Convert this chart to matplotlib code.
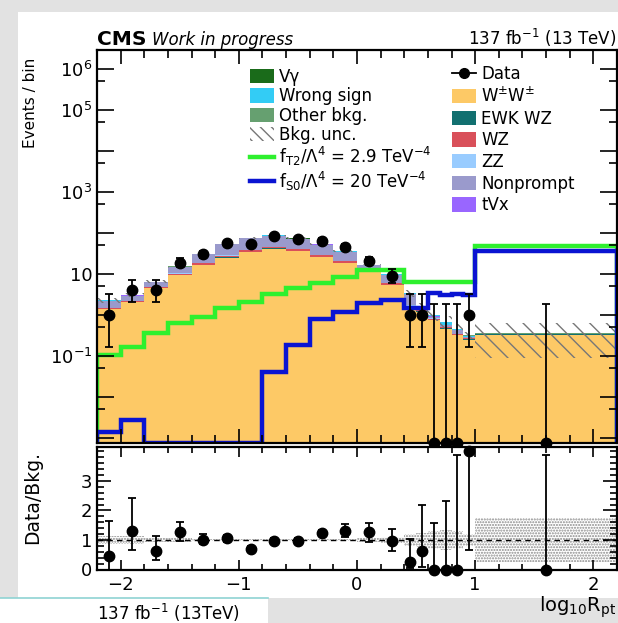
import numpy as np
import matplotlib
matplotlib.use("Agg")
import matplotlib.pyplot as plt
from matplotlib.patches import Patch, Rectangle
from matplotlib.lines import Line2D
from matplotlib.ticker import MultipleLocator, FixedLocator, FuncFormatter

plt.rcParams['font.family'] = ['DejaVu Sans']
plt.rcParams['mathtext.default'] = 'regular'
plt.rcParams['hatch.linewidth'] = 1.0

# binning in log10(R_pt)
edges = [-2.2, -2.0, -1.8, -1.6, -1.4, -1.2, -1.0, -0.8, -0.6, -0.4, -0.2,
         0.0, 0.2, 0.4, 0.5, 0.6, 0.7, 0.8, 0.9, 1.0, 2.2]

# backgrounds (events / bin), stacked bottom -> top
ww = [1.4, 2.1, 4.6, 9.5, 16.6, 25, 34, 41, 36, 26, 18.6, 11.4, 5.4, 1.45, 1.2, 0.75, 0.47, 0.32, 0.25, 0.32]
ewk_wz = [0.03, 0.04, 0.08, 0.2, 0.4, 0.7, 1.0, 1.1, 1.0, 0.7, 0.5, 0.25, 0.15, 0.05, 0.03, 0.02, 0.01, 0.01, 0.01, 0.02]
wz = [0.08, 0.1, 0.25, 0.6, 1.5, 2.5, 3.5, 4.0, 3.5, 2.6, 1.8, 1.0, 0.6, 0.2, 0.08, 0.05, 0.03, 0.02, 0.01, 0.005]
zz = [0.01, 0.02, 0.04, 0.1, 0.2, 0.3, 0.4, 0.5, 0.4, 0.3, 0.2, 0.1, 0.06, 0.02, 0.01, 0.01, 0.005, 0.005, 0.002, 0.002]
nonprompt = [0.7, 0.72, 1.3, 4.4, 11.3, 24.7, 34.8, 38.9, 31.9, 22.8, 13.8, 3.6, 3.4, 1.5, 0.19, 0.09, 0.06, 0.07, 0.02, 0.0]
tvx = [0.01, 0.02, 0.04, 0.1, 0.2, 0.35, 0.5, 0.6, 0.5, 0.35, 0.25, 0.12, 0.08, 0.03, 0.01, 0.01, 0.005, 0.005, 0.002, 0.002]
vgamma = [0.02, 0.03, 0.05, 0.1, 0.2, 0.3, 0.4, 0.4, 0.35, 0.25, 0.15, 0.08, 0.05, 0.02, 0.01, 0.01, 0.005, 0.003, 0.002, 0.002]
wrong_sign = [0.03, 0.04, 0.08, 0.2, 0.4, 0.8, 1.0, 1.1, 1.0, 0.7, 0.5, 0.3, 0.2, 0.1, 0.06, 0.05, 0.1, 0.03, 0.02, 0.003]
other_bkg = [0.02, 0.03, 0.05, 0.1, 0.2, 0.3, 0.4, 0.4, 0.35, 0.25, 0.2, 0.1, 0.06, 0.02, 0.01, 0.01, 0.005, 0.005, 0.003, 0.01]
bkg_unc = [0.15, 0.12, 0.08, 0.06, 0.05, 0.04, 0.04, 0.04, 0.04, 0.04, 0.05, 0.06, 0.1, 0.2, 0.25, 0.3, 0.35, 0.3, 0.2, 0.75]

# signal hypotheses
sig_t2 = [0.106, 0.17, 0.36, 0.63, 0.91, 1.46, 2.1, 3.2, 4.5, 6.1, 8.6, 12.5, 12.5, 6.5, 6.5, 6.5, 6.5, 6.5, 6.5, 48]
sig_s0 = [0.0014, 0.0028, 0, 0, 0, 0, 0, 0.041, 0.185, 0.8, 1.2, 1.93, 2.35, 1.45, 1.45, 3.4, 3.1, 3.3, 3.1, 36]

# data with Poisson intervals
data = [1, 4, 4, 19, 30, 56, 53, 85, 70, 65, 45, 21, 9, 1, 1, 0, 0, 0, 1, 0]
data_lo = [0.17, 2.09, 2.09, 14.7, 24.6, 48.5, 45.7, 75.8, 61.7, 56.9, 38.3, 16.4, 6.1, 0.17, 0.17, 0, 0, 0, 0.17, 0]
data_hi = [3.3, 7.16, 7.16, 24.4, 36.5, 64.5, 61.3, 95.3, 79.4, 74.1, 52.7, 26.6, 13.1, 3.3, 3.3, 1.84, 1.84, 1.84, 3.3, 1.84]

# data / bkg ratio
ratio = [0.46, 1.32, 0.63, 1.28, 1.0, 1.06, 0.69, 0.97, 0.97, 1.23, 1.32, 1.26, 0.97, 0.24, 0.63, 0, 0, 0, 4.0, 0]
ratio_lo = [0.0, 0.66, 0.32, 0.98, 0.85, 0.94, 0.6, 0.87, 0.87, 1.12, 1.11, 0.94, 0.63, 0.04, 0.1, 0, 0, 0, 0.66, 0]
ratio_hi = [1.64, 2.41, 1.15, 1.62, 1.21, 1.18, 0.78, 1.08, 1.08, 1.34, 1.53, 1.58, 1.37, 1.02, 2.19, 1.57, 2.32, 3.88, 5.0, 3.88]

edges = np.array(edges)
centers = 0.5 * (edges[:-1] + edges[1:])
ymin, ymax = 7.6e-4, 2.9e6

fig = plt.figure(figsize=(6.18, 6.23), dpi=100)
fig.patch.set_facecolor('#e2e2e2')
W, H = 618.0, 623.0
fig.add_artist(Rectangle((18 / W, 1 - 598 / H), 600 / W, 586 / H, transform=fig.transFigure,
                         facecolor='white', edgecolor='none', zorder=-5))
fig.add_artist(Rectangle((0, 0), 268 / W, 1 - 598 / H, transform=fig.transFigure,
                         facecolor='white', edgecolor='none', zorder=-5))
fig.add_artist(Line2D([0, 268 / W], [1 - 598 / H] * 2, transform=fig.transFigure,
                      color='#8fd3d3', lw=1.2))

ax = fig.add_axes([97 / W, 1 - 443 / H, 520 / W, 393 / H])
rax = fig.add_axes([97 / W, 1 - 569.5 / H, 520 / W, 122.5 / H])

# stacked backgrounds
stack = [(ww, '#fdc966'), (ewk_wz, '#127070'), (wz, '#d9505a'), (zz, '#99ccff'),
         (nonprompt, '#9a9acc'), (tvx, '#9966ff'), (vgamma, '#1a6b1a'),
         (wrong_sign, '#33ccf5'), (other_bkg, '#66a070')]
cum = np.zeros(len(centers))
for vals, col in stack:
    top = cum + np.array(vals)
    ax.stairs(np.maximum(top, ymin), edges, baseline=np.maximum(cum, ymin),
              fill=True, facecolor=col, edgecolor='none', lw=0)
    cum = top
total = cum
unc = np.array(bkg_unc)
ax.stairs(total * (1 + unc), edges, baseline=total * (1 - unc), fill=True,
          facecolor='none', edgecolor='#777777', hatch='\\\\', lw=0)

# signals
ax.stairs(np.maximum(sig_t2, ymin), edges, baseline=ymin, color='#2ef02e', lw=3.2)
ax.stairs(np.maximum(sig_s0, ymin), edges, baseline=ymin, color='#0a14d2', lw=3.2)

# data
y = np.maximum(data, ymin)
ax.errorbar(centers, y, yerr=[y - np.maximum(data_lo, ymin), np.array(data_hi) - y],
            fmt='none', ecolor='k', elinewidth=1.3, capsize=3, capthick=1.3, zorder=6)
ax.plot(centers, y, 'o', color='k', ms=7.5, clip_on=False, zorder=7)

ax.set_yscale('log')
ax.set_ylim(ymin, ymax)
ax.yaxis.set_major_locator(FixedLocator(10.0 ** np.arange(-3, 7)))
ax.yaxis.set_minor_locator(FixedLocator(5 * 10.0 ** np.arange(-4, 6)))
ylabels = {6: '$10^{6}$', 5: '$10^{5}$', 3: '$10^{3}$', 1: '10', -1: '$10^{-1}$'}
ax.yaxis.set_major_formatter(FuncFormatter(lambda v, p: ylabels.get(int(round(np.log10(v))), '')))
ax.tick_params(axis='y', which='major', length=12)
ax.tick_params(axis='y', which='minor', length=6)
ax.tick_params(axis='x', labelbottom=False)

# ratio panel
rax.stairs(1 + unc, edges, baseline=1 - unc, fill=True, facecolor='none',
           edgecolor='#8a8a8a', hatch='......', lw=0)
rax.axhline(1, color='k', ls=(0, (4, 3)), lw=1)
r = np.array(ratio)
rax.errorbar(centers, r, yerr=[r - np.array(ratio_lo), np.array(ratio_hi) - r],
             fmt='none', ecolor='k', elinewidth=1.3, capsize=3, capthick=1.3)
rax.plot(centers, r, 'o', color='k', ms=7.5, clip_on=False, zorder=7)
rax.set_ylim(0, 4.15)
rax.yaxis.set_major_locator(FixedLocator([0, 1, 2, 3]))
rax.yaxis.set_minor_locator(MultipleLocator(0.2))
rax.tick_params(axis='y', which='major', length=10)
rax.tick_params(axis='y', which='minor', length=5)
rax.tick_params(axis='x', which='major', length=7, pad=5)
rax.tick_params(axis='x', which='minor', length=4)

for a in (ax, rax):
    a.set_xlim(-2.2, 2.2)
    a.xaxis.set_major_locator(MultipleLocator(1))
    a.xaxis.set_minor_locator(MultipleLocator(0.2))
    a.tick_params(which='both', direction='in', top=True, right=True, width=1.2, labelsize=13)
    for s in a.spines.values():
        s.set_linewidth(1.6)
ax.tick_params(axis='x', which='major', length=10)
ax.tick_params(axis='x', which='minor', length=6)

# legends
left_handles = [Patch(facecolor='#1a6b1a'), Patch(facecolor='#33ccf5'), Patch(facecolor='#66a070'),
                Patch(facecolor='none', edgecolor='#777777', hatch='\\\\\\', lw=0),
                Line2D([], [], color='#2ef02e', lw=3.2), Line2D([], [], color='#0a14d2', lw=3.2)]
left_labels = ['V\u03b3', 'Wrong sign', 'Other bkg.', 'Bkg. unc.',
               r'f$_{T2}$/$\Lambda^{4}$ = 2.9 TeV$^{-4}$', r'f$_{S0}$/$\Lambda^{4}$ = 20 TeV$^{-4}$']
right_handles = [Line2D([], [], color='k', marker='o', ms=7, lw=1.3),
                 Patch(facecolor='#fdc966'), Patch(facecolor='#127070'), Patch(facecolor='#d9505a'),
                 Patch(facecolor='#99ccff'), Patch(facecolor='#9a9acc'), Patch(facecolor='#9966ff')]
right_labels = ['Data', r'W$^{\pm}$W$^{\pm}$', 'EWK WZ', 'WZ', 'ZZ', 'Nonprompt', 'tVx']
leg_kw = dict(frameon=False, fontsize=12, handlelength=1.45, handleheight=0.95,
              handletextpad=0.3, borderpad=0, borderaxespad=0,
              loc='upper left', bbox_transform=fig.transFigure)
leg1 = ax.legend(left_handles, left_labels, bbox_to_anchor=(250 / W, 1 - 68 / H),
                 labelspacing=0.08, **leg_kw)
ax.add_artist(leg1)
ax.legend(right_handles, right_labels, bbox_to_anchor=(452 / W, 1 - 65 / H),
          labelspacing=0.22, **leg_kw)

# texts
fig.text(97 / W, 1 - 45 / H, 'CMS', fontsize=14.5, fontweight='bold', va='baseline')
fig.text(152 / W, 1 - 45 / H, 'Work in progress', fontsize=12, style='italic', va='baseline')
fig.text(616 / W, 1 - 45 / H, r'137 fb$^{-1}$ (13 TeV)', fontsize=12, ha='right', va='baseline')
fig.text(30 / W, 1 - 58 / H, 'Events / bin', fontsize=11, rotation=90, ha='center', va='top')
fig.text(33 / W, 1 - 497 / H, 'Data/Bkg.', fontsize=13.5, rotation=90, ha='center', va='center')
fig.text(616 / W, 1 - 612 / H, r'log$_{10}$R$_{pt}$', fontsize=14, ha='right', va='baseline')
fig.text(97 / W, 1 - 620 / H, r'137 fb$^{-1}$ (13TeV)', fontsize=12, ha='left', va='baseline')

fig.savefig('out.png', dpi=100, facecolor=fig.get_facecolor())
